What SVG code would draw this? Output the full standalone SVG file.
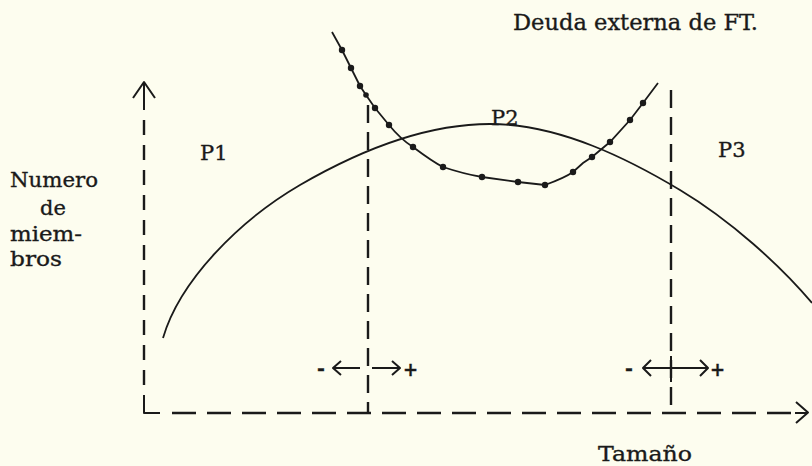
<svg xmlns="http://www.w3.org/2000/svg" width="812" height="466" viewBox="0 0 812 466">
<style>
text{font-family:"DejaVu Serif","Liberation Serif",serif;fill:#1a1a1a;stroke:#1a1a1a;stroke-width:0.35}
.ln{fill:none;stroke:#1a1a1a;stroke-width:2;stroke-linecap:butt;stroke-linejoin:round}
.dv{fill:none;stroke:#1a1a1a;stroke-width:2.4;stroke-dasharray:18 9}
.dy{fill:none;stroke:#1a1a1a;stroke-width:2.4;stroke-dasharray:15 10}
.dx{fill:none;stroke:#1a1a1a;stroke-width:2.6;stroke-dasharray:24 11}
.cv{fill:none;stroke:#1a1a1a;stroke-width:1.8}
.mk{fill:#1a1a1a}
.sg{font-weight:bold}
</style>
<rect width="812" height="466" fill="#fdfdef"/>
<g id="connectors">
  <path class="ln" d="M144,82 V110"/>
  <path class="ln" d="M133,98 L144,82 L155,98"/>
  <path class="dy" d="M144,120 V395"/>
  <path class="ln" d="M144,395 V413 H160"/>
  <path class="dx" d="M172,413 H795"/>
  <path class="ln" d="M796,402 L808,412.5 L796,423"/>
  <path class="ln" d="M795,413 H808"/>
  <path class="dv" d="M368,105 V413"/>
  <path class="dv" d="M671,90 V413"/>
  <path class="ln" d="M333,368 H360 M341,361 L333,368 L341,375"/>
  <path class="ln" d="M372,368 H400 M392,361 L400,368 L392,375"/>
  <path class="ln" d="M643,368 H708 M651,360 L643,368 L651,376 M700,360 L708,368 L700,376"/>
  <path class="ln" d="M671,356 V382"/>
</g>
<g id="arch">
  <path class="cv" d="M163,338 C180,280 240,220 300,185 C350,156 420,124 490,124 C560,124 630,160 680,190 C730,220 780,265 812,303"/>
</g>
<g id="deuda-curve">
  <path class="cv" d="M332,32 L342,50 L351,68 L360,86 L366,95 L375,108 L389,125 C398,136 405,142 413,147 C425,156 433,162 443,167 C458,172 470,175 482,177 L518,182 L545,185 C556,181 566,177 573,172 L583,163 L592,157 L610,142 L630,120 L643,103 L658,83"/>
  <g class="mk">
    <circle cx="342" cy="50" r="3.2"/>
    <circle cx="351" cy="68" r="3.2"/>
    <circle cx="360" cy="86" r="3.2"/>
    <circle cx="366" cy="95" r="2.8"/>
    <circle cx="375" cy="108" r="3.2"/>
    <circle cx="389" cy="125" r="3.2"/>
    <circle cx="413" cy="147" r="3.2"/>
    <circle cx="443" cy="167" r="3.2"/>
    <circle cx="482" cy="177" r="3.2"/>
    <circle cx="518" cy="182" r="3.2"/>
    <circle cx="545" cy="185" r="3.2"/>
    <circle cx="573" cy="172" r="3.2"/>
    <circle cx="592" cy="157" r="3.2"/>
    <circle cx="610" cy="142" r="3.2"/>
    <circle cx="630" cy="120" r="3.2"/>
    <circle cx="643" cy="103" r="3.2"/>
  </g>
</g>
<g id="title"><text x="513" y="30" font-size="22" textLength="245" lengthAdjust="spacingAndGlyphs">Deuda externa de FT.</text></g>
<g id="y-label">
  <text x="10" y="187" font-size="21" textLength="88" lengthAdjust="spacingAndGlyphs">Numero</text>
  <text x="40" y="215" font-size="21">de</text>
  <text x="10" y="241" font-size="21" textLength="72" lengthAdjust="spacingAndGlyphs">miem-</text>
  <text x="10" y="266" font-size="21" textLength="52" lengthAdjust="spacingAndGlyphs">bros</text>
</g>
<g id="P1"><text x="200" y="160" font-size="21">P1</text></g>
<g id="P2"><text x="491" y="125" font-size="21">P2</text></g>
<g id="P3"><text x="718" y="157" font-size="21">P3</text></g>
<g id="signs">
  <text class="sg" x="317" y="375" font-size="19">-</text>
  <text class="sg" x="403" y="376" font-size="18">+</text>
  <text class="sg" x="625" y="375" font-size="19">-</text>
  <text class="sg" x="710" y="376" font-size="18">+</text>
</g>
<g id="x-label"><text x="598" y="461" font-size="21" textLength="94" lengthAdjust="spacingAndGlyphs">Tamaño</text></g>
</svg>
